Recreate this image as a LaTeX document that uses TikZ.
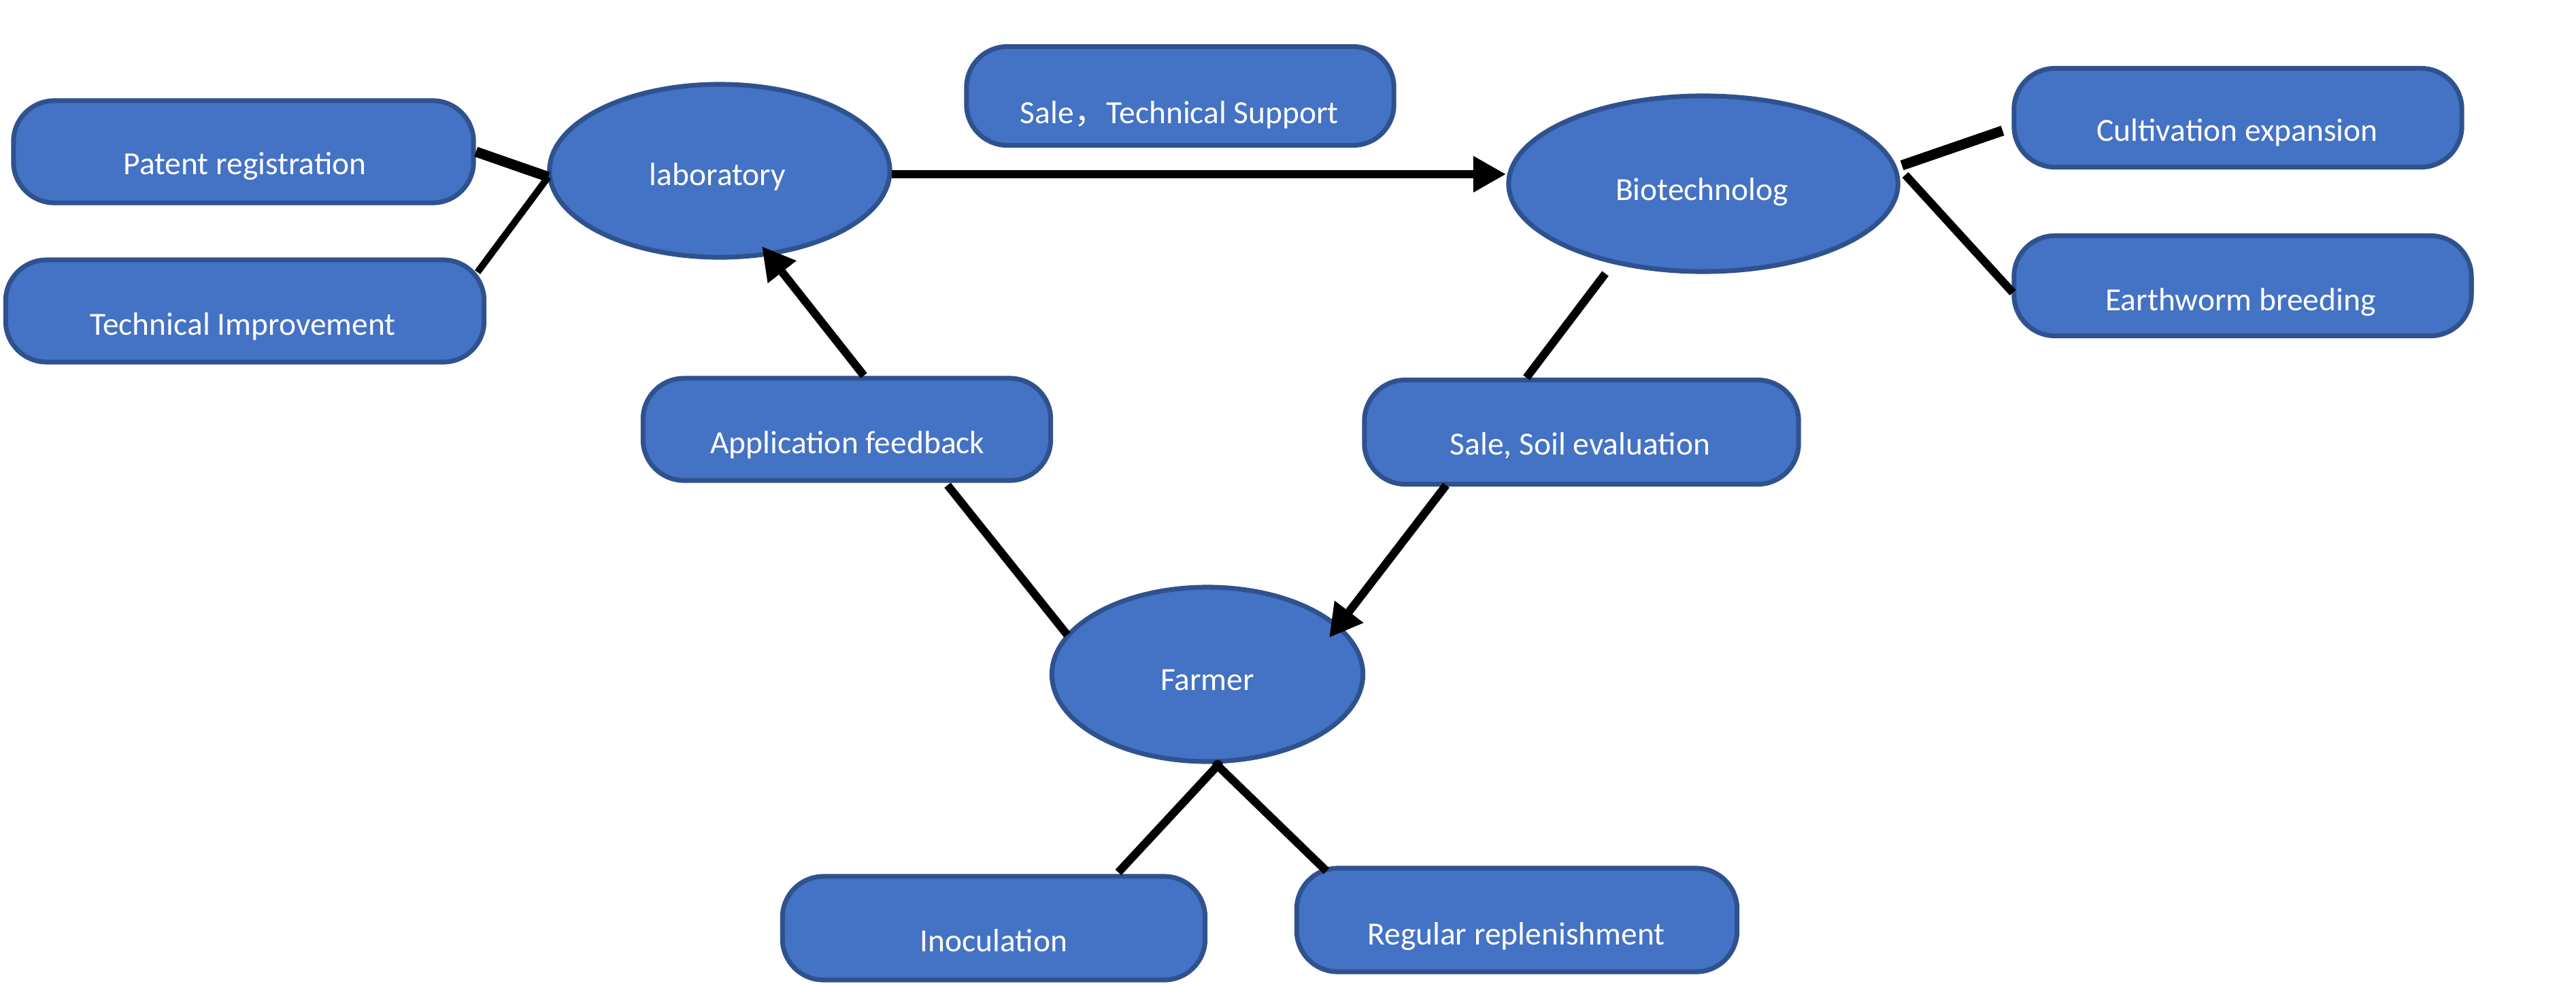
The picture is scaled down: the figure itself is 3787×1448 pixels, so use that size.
\documentclass[tikz,border=0pt]{standalone}
\usepackage{fontspec}
\setmainfont{Carlito}
\newfontfamily\cjk{Noto Sans CJK SC}
\usetikzlibrary{shapes.geometric,arrows.meta,calc}
\definecolor{blu}{HTML}{4472C4}
\definecolor{bdr}{HTML}{2F528F}
\tikzset{
  rbox/.style={draw=bdr, fill=blu, line width=2pt, rounded corners=0.6cm, inner sep=0pt},
  ell/.style={ellipse, draw=bdr, fill=blu, line width=2pt, inner sep=0pt},
  txt/.style={text=white, anchor=base, inner sep=0pt, font=\fontsize{13.5}{16}\selectfont},
  conn/.style={line width=0.12cm, black},
  arr/.style={line width=0.12cm, black, -{Triangle[length=0.48cm,width=0.5cm]}}
}
\begin{document}
\begin{tikzpicture}[x=0.01cm,y=-0.01cm]
\useasboundingbox (0,0) rectangle (3787,1448);
% shapes
\node[rbox, minimum width=6.76cm, minimum height=1.50cm] (pat) at (358,223) {};
\node[rbox, minimum width=7.03cm, minimum height=1.50cm] (tech) at (360,457) {};
\node[ell, minimum width=5.00cm, minimum height=2.54cm] (lab) at (1058,251) {};
\node[rbox, minimum width=6.28cm, minimum height=1.45cm] (sts) at (1735,141) {};
\node[ell, minimum width=5.72cm, minimum height=2.58cm] (bio) at (2504,270) {};
\node[rbox, minimum width=6.58cm, minimum height=1.45cm] (cult) at (3290,173) {};
\node[rbox, minimum width=6.72cm, minimum height=1.47cm] (earth) at (3297,420) {};
\node[rbox, minimum width=5.99cm, minimum height=1.50cm] (app) at (1245,631) {};
\node[rbox, minimum width=6.38cm, minimum height=1.53cm] (soil) at (2325,635) {};
\node[ell, minimum width=4.57cm, minimum height=2.56cm] (farmer) at (1775,991) {};
\node[rbox, minimum width=6.21cm, minimum height=1.52cm] (inoc) at (1461,1364) {};
\node[rbox, minimum width=6.47cm, minimum height=1.52cm] (reg) at (2230,1352) {};
% texts
\node[txt] (patT) at (360,256) {Patent registration};
\node[txt] (techT) at (357,492) {Technical Improvement};
\node[txt] (labT) at (1055,272) {laboratory};
\node[txt] (stsT) at (1734,181) {Sale{\cjk ，}Technical Support};
\node[txt] (bioT) at (2502,294) {Biotechnolog};
\node[txt] (cultT) at (3289,207) {Cultivation expansion};
\node[txt] (earthT) at (3294,456) {Earthworm breeding};
\node[txt] (appT) at (1246,666) {Application feedback};
\node[txt] (soilT) at (2323,668) {Sale, Soil evaluation};
\node[txt] (farmerT) at (1775,1014) {Farmer};
\node[txt] (inocT) at (1461,1398) {Inoculation};
\node[txt] (regT) at (2229,1388) {Regular replenishment};
% connectors
\draw[conn, line width=0.15cm] (pat.east) -- ($(lab.center)+(-252,9)$);
\draw[conn, line width=0.1cm] ($(tech.center)+(342,-57)$) -- ($(lab.center)+(-252,9)$);
\draw[arr] ($(lab.center)+(253,5)$) -- ($(bio.center)+(-290,-14)$);
\draw[conn, line width=0.15cm] ($(bio.center)+(292,-27)$) -- ($(cult.center)+(-346,19)$);
\draw[conn] ($(bio.center)+(297,-13)$) -- ($(earth.center)+(-338,10)$);
\draw[conn] ($(bio.center)+(-144,132)$) -- ($(soil.center)+(-81,-80)$);
\draw[arr] ($(soil.center)+(-199,78)$) -- ($(farmer.center)+(179,-54)$);
\draw[conn] ($(farmer.center)+(-206,-58)$) -- ($(app.center)+(148,82)$);
\draw[arr] ($(app.center)+(25,-79)$) -- ($(lab.center)+(62,111)$);
\coordinate (fj) at ($(farmer.center)+(15,134)$);
\draw[conn, line join=round] ($(inoc.center)+(183,-82)$) -- (fj) -- ($(reg.center)+(-280,-72)$);
\fill (fj) circle (0.08cm);
\end{tikzpicture}
\end{document}
